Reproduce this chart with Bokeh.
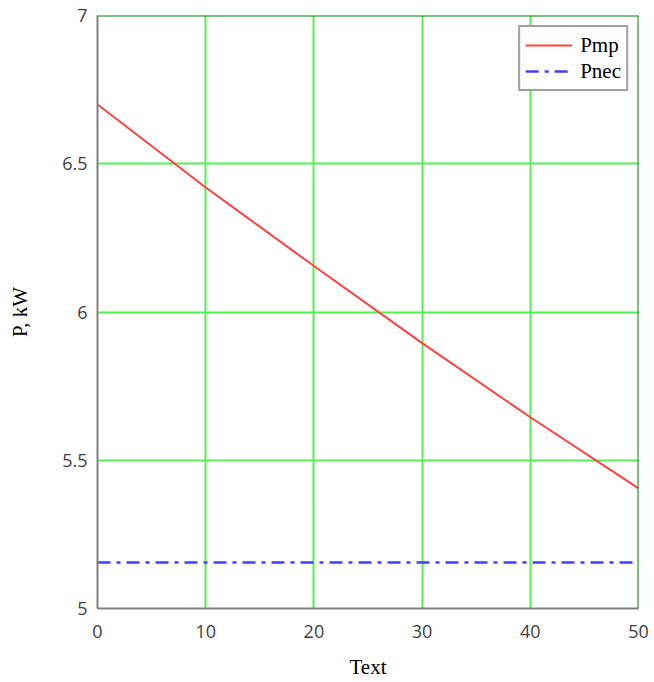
from bokeh.plotting import figure
from bokeh.models import ColumnDataSource, Span, Legend, LegendItem, FixedTicker, Range1d
from bokeh.embed import file_html
from bokeh.resources import INLINE

# Data
text_x = [0, 10, 20, 30, 40, 50]
pmp = [6.70, 6.42, 6.155, 5.895, 5.645, 5.405]
pnec = [5.155, 5.155, 5.155, 5.155, 5.155, 5.155]
x_ticks = [0, 10, 20, 30, 40, 50]
y_ticks = [5, 5.5, 6, 6.5, 7]

p = figure(width=650, height=682, output_backend="svg", toolbar_location=None,
           x_range=Range1d(0, 50), y_range=Range1d(5, 7),
           min_border_left=97, min_border_right=12, min_border_top=15, min_border_bottom=74)
p.outline_line_color = None
p.background_fill_color = "white"

for g in (p.xgrid[0], p.ygrid[0]):
    g.grid_line_color = "#55ee55"
    g.grid_line_width = 2
p.xaxis.ticker = FixedTicker(ticks=x_ticks)
p.yaxis.ticker = FixedTicker(ticks=y_ticks)
p.yaxis.major_label_overrides = {5: "5", 6: "6", 7: "7"}

for ax in (p.xaxis[0], p.yaxis[0]):
    ax.axis_line_color = "#808080"
    ax.axis_line_width = 2
    ax.major_tick_line_color = None
    ax.minor_tick_line_color = None
    ax.major_tick_in = 0
    ax.major_tick_out = 0
    ax.major_label_text_font = "Open Sans"
    ax.major_label_text_font_size = "18px"
    ax.major_label_text_color = "#404040"
    ax.axis_label_text_font = "Liberation Serif"
    ax.axis_label_text_font_size = "21px"
    ax.axis_label_text_font_style = "normal"
    ax.axis_label_text_color = "black"

p.xaxis.axis_label = "Text"
p.yaxis.axis_label = "P, kW"
p.xaxis.major_label_standoff = 16
p.yaxis.major_label_standoff = 10
p.xaxis.axis_label_standoff = 14
p.yaxis.axis_label_standoff = 27

# top and right border
p.add_layout(Span(location=7, dimension="width", line_color="#008000", line_width=2))
p.add_layout(Span(location=50, dimension="height", line_color="#008000", line_width=2))

src = ColumnDataSource(dict(x=text_x, pmp=pmp, pnec=pnec))
r1 = p.line("x", "pmp", source=src, line_color="#ff4040", line_width=2)
r2 = p.line("x", "pnec", source=src, line_color="#4040ff", line_width=2.5, line_dash="13 6 4 6")

legend = Legend(items=[LegendItem(label="Pmp", renderers=[r1]),
                       LegendItem(label="Pnec", renderers=[r2])],
                location="top_right")
legend.label_text_font = "Liberation Serif"
legend.label_text_font_size = "21px"
legend.label_text_color = "black"
legend.border_line_color = "#404040"
legend.border_line_width = 2
legend.margin = 10
legend.padding = 5
legend.spacing = 0
legend.glyph_width = 47
legend.label_standoff = 8
legend.label_height = 26
legend.glyph_height = 26
legend.background_fill_alpha = 1
p.add_layout(legend)

open("out.html", "w").write(file_html(p, INLINE))
